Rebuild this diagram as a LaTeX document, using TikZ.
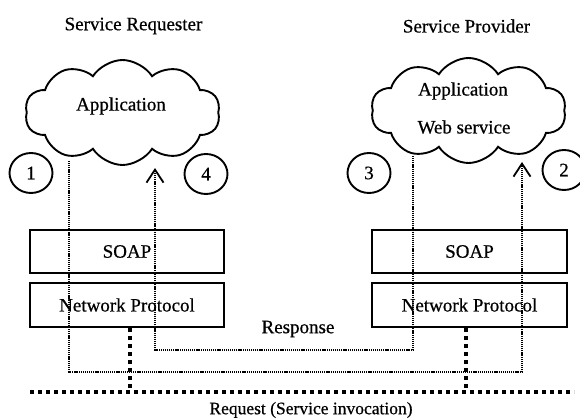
\documentclass[tikz,border=0pt]{standalone}
\usepackage{fontspec}
\setmainfont{Liberation Serif}[FakeBold=0.6]
\usetikzlibrary{shapes.symbols,shapes.geometric,arrows.meta}
\begin{document}
\begin{tikzpicture}[x=1pt,y=-1pt,
  lbl/.style={font=\fontsize{19}{22}\selectfont, inner sep=0pt},
  cloudbox/.style={cloud, draw, line width=1.9pt, cloud puffs=10, cloud puff arc=115, aspect=1.8, minimum width=195pt, minimum height=105pt, inner sep=0pt},
  layer/.style={draw, line width=2.2pt, minimum height=43pt, inner sep=0pt, font=\fontsize{19}{22}\selectfont},
  num/.style={ellipse, draw, line width=1.9pt, minimum width=43pt, minimum height=40pt, inner sep=0pt, font=\fontsize{19}{22}\selectfont},
  thindots/.style={line width=1.3pt, dash pattern=on 1.2pt off 0.9pt},
  thickdots/.style={line width=3.4pt, dash pattern=on 3.8pt off 4.2pt},
  barb/.style={-{Straight Barb[length=13pt,width=17pt,line width=1.8pt]}}
]
\useasboundingbox (0,0) rectangle (580,419);

% titles
\node[lbl] (treq) at (133.5,26) {Service Requester};
\node[lbl] (tprov) at (466.5,26) {Service Provider};

% clouds
\node[cloudbox] (cloudL) at (122.5,112.5) {};
\node[cloudbox] (cloudR) at (468.5,110.5) {};
\node[lbl] (appL) at (121,106) {Application};
\node[lbl] (appR) at (463,91) {Application};
\node[lbl] (wsR) at (464,127) {Web service};

% numbered circles
\node[num] (c1) at (31,173) {1};
\node[num] (c4) at (206,174) {4};
\node[num] (c3) at (369,173) {3};
\node[num] (c2) at (564,170) {2};

% protocol stacks
\node[layer, minimum width=194pt] (soapL) at (127,251.5) {SOAP};
\node[layer, minimum width=194pt, minimum height=44pt] (npL) at (127,305) {Network Protocol};
\node[layer, minimum width=195pt] (soapR) at (469.5,251.5) {SOAP};
\node[layer, minimum width=195pt, minimum height=44pt] (npR) at (469.5,305) {Network Protocol};

% request path
\coordinate (a1) at (69,161);
\coordinate (a1b) at (69,372);
\coordinate (a2b) at (522,372);
\coordinate (a2t) at (522,162);
\draw[thindots, barb] (a1) -- (a1b) -- (a2b) -- (a2t);

% response path
\coordinate (a3) at (413,156);
\coordinate (a3b) at (413,350);
\coordinate (a4b) at (155,350);
\coordinate (a4t) at (155,168);
\draw[thindots, barb] (a3) -- (a3b) -- (a4b) -- (a4t);

% network
\coordinate (qL) at (130,392);
\coordinate (qR) at (466,392);
\coordinate (reqS) at (30,392);
\coordinate (reqE) at (574,392);
\draw[thickdots] (npL.south -| qL) -- (qL);
\draw[thickdots] (npR.south -| qR) -- (qR);
\draw[thickdots] (reqS) -- (reqE);

\node[lbl] (resp) at (298,329) {Response};
\node[lbl, font=\fontsize{17.5}{20}\selectfont] (req) at (311,410) {Request (Service invocation)};
\end{tikzpicture}
\end{document}
